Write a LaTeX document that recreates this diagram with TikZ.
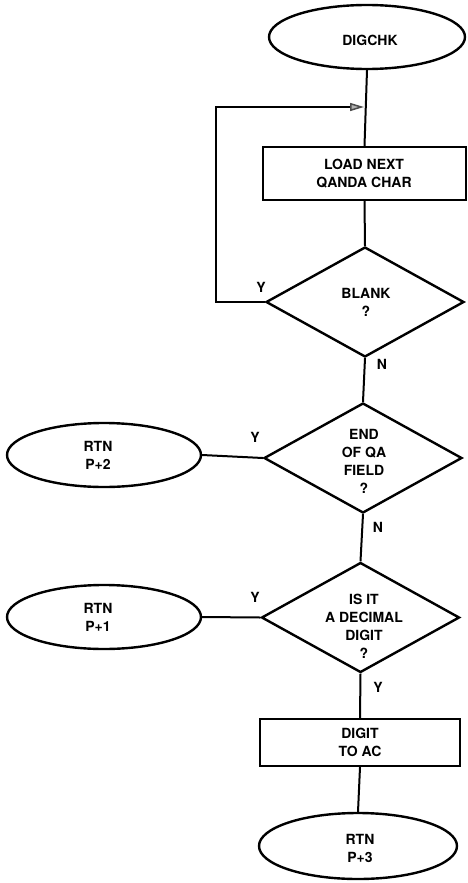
\documentclass[tikz,border=0pt]{standalone}
\usepackage{fontspec}
\setmainfont{TeX Gyre Heros}
\usetikzlibrary{shapes.geometric,arrows.meta}
\begin{document}
\begin{tikzpicture}[x=1pt,y=-1pt,
  every node/.style={font=\bfseries\fontsize{14}{18}\selectfont, align=center},
  term/.style={ellipse, draw, line width=2.4pt, inner sep=0pt},
  proc/.style={rectangle, draw, line width=2.4pt, inner sep=0pt},
  dec/.style={diamond, draw, line width=2.4pt, inner sep=0pt, minimum width=198pt, minimum height=110pt},
  conn/.style={line width=2pt},
  lab/.style={inner sep=0pt}]
\useasboundingbox (0,0) rectangle (467,883);
% nodes
\node[term, minimum width=196pt, minimum height=64pt] (start) at (367,37) {};
\node at (370,40) (tstart) {DIGCHK};
\node[proc, minimum width=203pt, minimum height=53pt] (load) at (364.5,173.5) {};
\node at (364,173.5) (tload) {LOAD NEXT\\QANDA CHAR};
\node[dec] (blank) at (365,302) {};
\node at (366,302) (tblank) {BLANK\\?};
\node[dec] (eof) at (363,458) {};
\node at (364,461) (teof) {END\\OF QA\\FIELD\\?};
\node[dec] (isdig) at (360.5,617.5) {};
\node at (364,626) (tisdig) {IS IT\\A DECIMAL\\DIGIT\\?};
\node[proc, minimum width=200pt, minimum height=47pt] (digit) at (360,742.5) {};
\node at (360,742.5) (tdigit) {DIGIT\\TO AC};
\node[term, minimum width=198pt, minimum height=66pt] (r3) at (358,846) {};
\node at (360,848) (tr3) {RTN\\P+3};
\node[term, minimum width=194pt, minimum height=64pt] (r2) at (104,455) {};
\node at (98,455) (tr2) {RTN\\P+2};
\node[term, minimum width=194pt, minimum height=64pt] (r1) at (104,617) {};
\node at (98,617) (tr1) {RTN\\P+1};
% labels
\node[lab] (ly1) at (261,287) {Y};
\node[lab] (ln1) at (382,364) {N};
\node[lab] (ly2) at (255,437) {Y};
\node[lab] (ln2) at (378,527) {N};
\node[lab] (ly3) at (255,597) {Y};
\node[lab] (ly4) at (378,687) {Y};
% connectors
\coordinate (join) at (364,107);
\coordinate (lb) at (216,302);
\coordinate (lt) at (216,107);
\draw[conn] (start.south) -- (load.north);
\draw[line width=1.5pt, -{Triangle[length=14pt,width=8pt,fill=gray!60,color=gray!60!black]}] (blank.west) -- (lb) -- (lt) -- (join);
\draw[conn] (load.south) -- (blank.north);
\draw[conn] (blank.south) -- (eof.north);
\draw[conn] (eof.west) -- (r2.east);
\draw[conn] (eof.south) -- (isdig.north);
\draw[conn] (isdig.west) -- (r1.east);
\draw[conn] (isdig.south) -- (digit.north);
\draw[conn] (digit.south) -- (r3.north);
\end{tikzpicture}
\end{document}
